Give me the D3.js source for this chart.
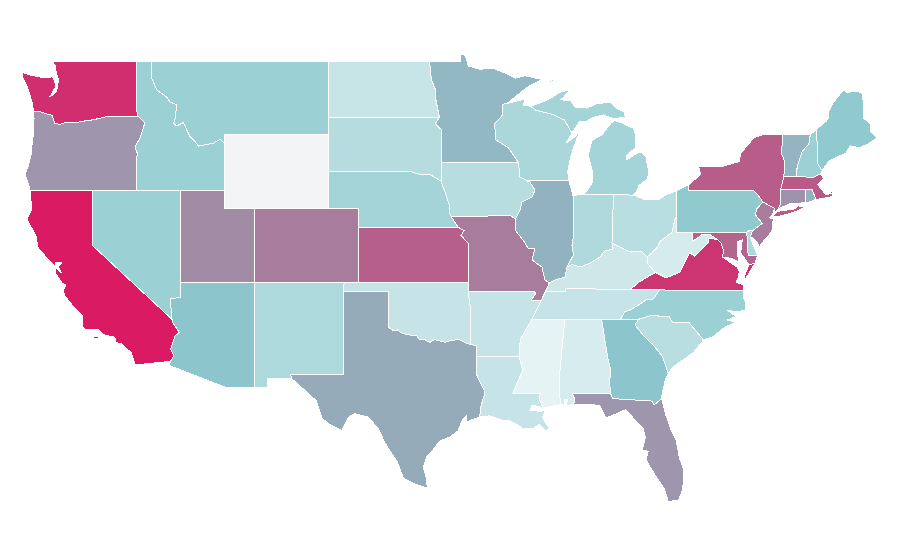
<!DOCTYPE html>
<html>
<head>
<meta charset="utf-8">
<title>US states</title>
<script src="https://cdn.jsdelivr.net/npm/d3@7"></script>
<style>
    html, body { margin: 0; padding: 0; background: #fff; }
    path { shape-rendering: crispEdges; }
</style>
</head>
<body>
<div id="chart"></div>
<script>
// state names and values, same order
var stateNames = ["Washington","Oregon","California","Nevada","Idaho","Montana","Wyoming","Utah","Colorado","Arizona","New Mexico","Texas","Oklahoma","Kansas","Nebraska","South Dakota","North Dakota","Minnesota","Iowa","Missouri","Arkansas","Louisiana","Mississippi","Alabama","Georgia","Florida","South Carolina","North Carolina","Tennessee","Kentucky","Illinois","Indiana","Ohio","Michigan","Wisconsin","Pennsylvania","New York","Vermont","New Hampshire","Maine","Massachusetts","Rhode Island","Connecticut","New Jersey","Delaware","Maryland","West Virginia","Virginia"];
var stateValues = [93,57.5,100,33,33,33,null,61,66,41,25,50,14.5,76,29,21.5,14,45.5,21,66,14.5,14.5,1,7,41,57,20,33,14.5,11,47.5,24.5,20,29,26,38,77,47,33,38,78,48,58,66,25,74,8,90.5];

// colour stops for the value scale
var colorDomain = [0, 40, 66, 100];
var colorRange = ["#e7f4f5", "#8bc8cd", "#a87c9c", "#da1a62"];
var noDataColor = "#f2f4f6";

// state outlines as [lon, lat] rings, same order as stateNames
var stateOutlines = [
  // Washington
  [[[-122.76,49],[-117.03,49],[-117.04,46.42],[-116.92,46],[-119,46],[-119.3,45.93],[-120,45.81],[-120.6,45.74],[-121.2,45.65],[-121.86,45.65],[-122.2,45.57],[-122.55,45.62],[-122.74,46.07],[-122.9,46.08],[-123.2,46.15],[-123.5,46.25],[-124,46.27],[-124.05,46.7],[-124.17,47],[-124.4,47.6],[-124.7,48.1],[-124.73,48.38],[-124.1,48.22],[-123.5,48.13],[-122.95,48.1],[-122.75,48.15],[-122.55,47.95],[-122.5,47.6],[-122.75,47.25],[-122.85,47.1],[-122.6,47.2],[-122.42,47.35],[-122.36,47.7],[-122.28,48],[-122.45,48.3],[-122.5,48.75]]],
  // Oregon
  [[[-124,46.27],[-123.5,46.25],[-123.2,46.15],[-122.9,46.08],[-122.74,46.07],[-122.55,45.62],[-122.2,45.57],[-121.86,45.65],[-121.2,45.65],[-120.6,45.74],[-120,45.81],[-119.3,45.93],[-119,46],[-116.92,46],[-116.6,45.75],[-116.46,45.65],[-116.79,44.83],[-117.13,44.34],[-116.93,43.9],[-117.03,43.8],[-117.03,42],[-124.21,42],[-124.4,42.5],[-124.55,42.84],[-124.35,43.3],[-124.15,43.9],[-124.07,44.6],[-123.97,45.2],[-123.95,45.9]]],
  // California
  [[[-124.21,42],[-120,42],[-120,39],[-114.63,35],[-114.57,34.8],[-114.14,34.3],[-114.43,34.08],[-114.72,33.4],[-114.52,33.03],[-114.72,32.72],[-117.12,32.53],[-117.25,32.85],[-117.4,33.2],[-118,33.65],[-118.4,33.75],[-118.5,34.03],[-119.2,34.15],[-119.6,34.42],[-120.47,34.45],[-120.65,34.6],[-120.65,35.15],[-121.3,35.7],[-121.9,36.3],[-121.95,36.6],[-121.8,36.85],[-122.05,36.95],[-122.5,37.5],[-122.45,37.8],[-122.1,37.5],[-122.3,37.85],[-122.05,38.05],[-122.5,38.1],[-122.5,37.85],[-122.95,38.2],[-123.7,38.9],[-123.8,39.5],[-124.35,40.3],[-124.4,40.45],[-124.1,41],[-124.2,41.8]],
   [[-119.9,34.05],[-119.55,34.05],[-119.6,33.97],[-119.9,33.97]],[[-118.6,33.47],[-118.35,33.38],[-118.35,33.32],[-118.6,33.4]]],
  // Nevada
  [[[-120,42],[-114.04,42],[-114.04,36.2],[-114.75,36.1],[-114.63,35],[-120,39]]],
  // Idaho
  [[[-117.03,49],[-116,49],[-116,48.08],[-115.66,47.43],[-114.99,47.05],[-114.76,46.78],[-114.31,46.62],[-114.43,45.8],[-114.54,45.64],[-114.31,45.48],[-113.86,45.66],[-113.63,45.26],[-113.41,44.9],[-113.07,44.63],[-112.85,44.39],[-111.84,44.54],[-111.39,44.76],[-111.05,44.5],[-111.05,42],[-117.03,42],[-117.03,43.8],[-116.93,43.9],[-117.13,44.34],[-116.79,44.83],[-116.46,45.65],[-116.6,45.75],[-116.92,46],[-117.04,46.42]]],
  // Montana
  [[[-116,49],[-104.05,49],[-104.05,45],[-111.05,45],[-111.05,44.5],[-111.39,44.76],[-111.84,44.54],[-112.85,44.39],[-113.07,44.63],[-113.41,44.9],[-113.63,45.26],[-113.86,45.66],[-114.31,45.48],[-114.54,45.64],[-114.43,45.8],[-114.31,46.62],[-114.76,46.78],[-114.99,47.05],[-115.66,47.43],[-116,48.08]]],
  // Wyoming
  [[[-111.05,45],[-104.05,45],[-104.05,41],[-111.05,41]]],
  // Utah
  [[[-114.04,42],[-111.05,42],[-111.05,41],[-109.05,41],[-109.05,37],[-114.04,37]]],
  // Colorado
  [[[-109.05,41],[-102.05,41],[-102.05,37],[-109.05,37]]],
  // Arizona
  [[[-114.04,37],[-109.05,37],[-109.05,31.33],[-111.07,31.33],[-114.81,32.5],[-114.72,32.72],[-114.52,33.03],[-114.72,33.4],[-114.43,34.08],[-114.14,34.3],[-114.57,34.8],[-114.63,35],[-114.75,36.1],[-114.04,36.2]]],
  // New Mexico
  [[[-109.05,37],[-103,37],[-103.04,32],[-106.62,32],[-106.53,31.78],[-108.2,31.78],[-108.2,31.33],[-109.05,31.33]]],
  // Texas
  [[[-103.04,36.5],[-100,36.5],[-100,34.56],[-99.7,34.4],[-99.4,34.42],[-99.2,34.3],[-98.9,34.2],[-98.6,34.15],[-98.1,34.13],[-97.9,33.9],[-97.55,33.9],[-97.2,33.75],[-96.9,33.9],[-96.6,33.85],[-96.2,33.75],[-95.8,33.85],[-95.5,33.88],[-95.2,33.9],[-94.8,33.73],[-94.48,33.64],[-94.04,33.55],[-94.04,33],[-94.04,31.99],[-93.8,31.55],[-93.55,31.2],[-93.53,30.9],[-93.75,30.3],[-93.84,29.7],[-94.7,29.45],[-94.75,29.75],[-95,29.55],[-95.3,28.95],[-95.9,28.6],[-96.55,28.4],[-97.1,27.8],[-97.4,27.6],[-97.65,27],[-97.45,26.4],[-97.38,25.88],[-97.6,25.9],[-98.2,26.06],[-99,26.4],[-99.4,27.26],[-100.24,28.3],[-100.7,29.1],[-101.4,29.7],[-102.3,29.88],[-102.7,29.7],[-103.15,28.98],[-104,29.3],[-104.5,29.65],[-104.9,30.6],[-106,31.4],[-106.53,31.78],[-106.62,32],[-103.04,32]]],
  // Oklahoma
  [[[-103,37],[-94.62,37],[-94.62,36.5],[-94.43,35.4],[-94.48,33.64],[-94.8,33.73],[-95.2,33.9],[-95.5,33.88],[-95.8,33.85],[-96.2,33.75],[-96.6,33.85],[-96.9,33.9],[-97.2,33.75],[-97.55,33.9],[-97.9,33.9],[-98.1,34.13],[-98.6,34.15],[-98.9,34.2],[-99.2,34.3],[-99.4,34.42],[-99.7,34.4],[-100,34.56],[-100,36.5],[-103.04,36.5]]],
  // Kansas
  [[[-102.05,40],[-95.31,40],[-94.9,39.8],[-95.1,39.55],[-94.6,39.1],[-94.62,37],[-102.05,37]]],
  // Nebraska
  [[[-104.05,43],[-98.5,43],[-97.85,42.85],[-97.2,42.85],[-96.45,42.49],[-96.1,41.7],[-95.9,41.2],[-95.85,40.7],[-95.31,40],[-102.05,40],[-102.05,41],[-104.05,41]]],
  // South Dakota
  [[[-104.05,45.94],[-96.56,45.94],[-96.85,45.6],[-96.45,45.3],[-96.45,43.5],[-96.45,42.49],[-97.2,42.85],[-97.85,42.85],[-98.5,43],[-104.05,43]]],
  // North Dakota
  [[[-104.05,49],[-97.23,49],[-97.1,48],[-96.85,47.5],[-96.8,46.9],[-96.56,45.94],[-104.05,45.94]]],
  // Minnesota
  [[[-97.23,49],[-95.15,49],[-95.15,49.38],[-94.8,49.3],[-94.6,48.72],[-93.8,48.55],[-92.95,48.62],[-92,48.3],[-91.4,48.07],[-90.8,48.2],[-89.6,48],[-90.5,47.65],[-92,46.7],[-92.3,46.65],[-92.29,46.07],[-92.85,45.6],[-92.75,45],[-92.8,44.75],[-91.9,44.3],[-91.22,43.5],[-96.45,43.5],[-96.45,45.3],[-96.85,45.6],[-96.56,45.94],[-96.8,46.9],[-96.85,47.5],[-97.1,48]]],
  // Iowa
  [[[-96.45,43.5],[-91.22,43.5],[-91.12,42.71],[-90.44,42.44],[-90.1,42],[-90.3,41.63],[-90.98,41.36],[-91.12,40.92],[-91.42,40.42],[-91.73,40.61],[-95.77,40.58],[-95.85,40.7],[-95.9,41.2],[-96.1,41.7],[-96.45,42.49]]],
  // Missouri
  [[[-95.77,40.58],[-91.73,40.61],[-91.42,40.42],[-91.45,39.84],[-90.91,39.3],[-90.57,38.86],[-90.1,38.86],[-90.3,38.21],[-89.63,37.83],[-89.43,37.13],[-89.13,36.98],[-89.4,36.5],[-89.7,36],[-90.37,36],[-90.06,36.4],[-90.15,36.5],[-94.62,36.5],[-94.62,37],[-94.6,39.1],[-95.1,39.55],[-94.9,39.8],[-95.31,40]]],
  // Arkansas
  [[[-94.62,36.5],[-90.15,36.5],[-90.06,36.4],[-90.37,36],[-89.7,36],[-90.3,35],[-90.6,34.6],[-91.1,33.9],[-91.17,33],[-94.04,33],[-94.04,33.55],[-94.48,33.64],[-94.43,35.4]]],
  // Louisiana
  [[[-94.04,33],[-91.17,33],[-91,32.4],[-90.9,32.3],[-91.6,31],[-89.73,31],[-89.83,30.67],[-89.55,30.2],[-90.3,30.35],[-90.45,30.05],[-89.75,30.02],[-89.4,30.05],[-89.6,29.7],[-89.4,29.4],[-89.1,29.1],[-89.4,28.95],[-89.8,29.3],[-90.2,29.1],[-90.9,29.05],[-91.3,29.3],[-91.8,29.5],[-92.3,29.53],[-93.2,29.77],[-93.84,29.7],[-93.75,30.3],[-93.53,30.9],[-93.55,31.2],[-93.8,31.55],[-94.04,31.99]]],
  // Mississippi
  [[[-90.3,35],[-88.2,35],[-88.1,34.9],[-88.45,31.9],[-88.4,30.37],[-89.55,30.2],[-89.83,30.67],[-89.73,31],[-91.6,31],[-90.9,32.3],[-91,32.4],[-91.17,33],[-91.1,33.9],[-90.6,34.6]]],
  // Alabama
  [[[-88.2,35],[-85.6,35],[-85.18,32.87],[-85,32.3],[-85.05,31.55],[-85,31],[-87.6,31],[-87.4,30.65],[-87.5,30.4],[-88,30.3],[-87.9,30.65],[-88.1,30.65],[-88.1,30.35],[-88.4,30.37],[-88.45,31.9],[-88.1,34.9]]],
  // Georgia
  [[[-85.6,35],[-83.1,35],[-83.35,34.7],[-82.75,34.1],[-82,33.5],[-81.5,33],[-81.1,32.05],[-81.3,31.7],[-81.55,30.8],[-81.55,30.7],[-82.05,30.36],[-82.2,30.57],[-84.86,30.7],[-85,31],[-85.05,31.55],[-85,32.3],[-85.18,32.87]]],
  // Florida
  [[[-87.6,31],[-85,31],[-84.86,30.7],[-82.2,30.57],[-82.05,30.36],[-81.55,30.7],[-81.3,29.9],[-80.9,29],[-80.55,28.4],[-80.35,27.5],[-80.03,26.8],[-80.12,25.8],[-80.4,25.2],[-81.1,25.12],[-81.35,25.8],[-81.85,26.4],[-82.25,26.9],[-82.6,27.4],[-82.45,27.85],[-82.85,27.9],[-82.65,28.6],[-82.8,29.1],[-83.4,29.6],[-84,30.1],[-84.4,29.95],[-85.3,29.65],[-85.7,30.3],[-86.3,30.4],[-87.5,30.4],[-87.4,30.65]]],
  // South Carolina
  [[[-83.35,34.7],[-83.1,35],[-82.3,35.2],[-81.05,35.15],[-80.8,34.82],[-79.67,34.8],[-78.72,33.88],[-79.43,33.17],[-80.1,32.8],[-80.8,32.4],[-81.1,32.05],[-81.5,33],[-82,33.5],[-82.75,34.1]]],
  // North Carolina
  [[[-81.68,36.59],[-76,36.55],[-76.05,36.2],[-75.85,35.88],[-75.9,35.5],[-76.45,35.4],[-77.13,35.5],[-76.5,35.15],[-77.13,34.96],[-76.5,34.85],[-77.26,34.58],[-78.1,34.04],[-78.72,33.88],[-79.67,34.8],[-80.8,34.82],[-81.05,35.15],[-82.3,35.2],[-83.1,35],[-84.32,35],[-84.05,35.4],[-83.5,35.57],[-82.6,36.05],[-82.1,36.1]]],
  // Tennessee
  [[[-90.3,35],[-88.2,35],[-85.6,35],[-84.32,35],[-84.05,35.4],[-83.5,35.57],[-82.6,36.05],[-82.1,36.1],[-81.68,36.59],[-83.68,36.6],[-88.07,36.68],[-88.07,36.5],[-89.4,36.5],[-89.7,36]]],
  // Kentucky
  [[[-89.4,36.5],[-88.07,36.5],[-88.07,36.68],[-83.68,36.6],[-83.1,37],[-81.97,37.54],[-82.53,38.05],[-82.53,38.38],[-82.87,38.65],[-83.68,38.65],[-84.36,38.92],[-84.9,39.13],[-84.85,38.8],[-85.4,38.7],[-85.7,38.38],[-86.38,38.05],[-87.06,37.83],[-87.6,37.97],[-87.94,37.83],[-88.07,37.29],[-88.75,37.13],[-89.13,36.98]]],
  // Illinois
  [[[-90.64,42.5],[-87.8,42.5],[-87.55,41.75],[-87.53,41.7],[-87.53,39.35],[-87.6,39],[-87.5,38.5],[-87.94,37.83],[-88.07,37.29],[-88.75,37.13],[-89.13,36.98],[-89.43,37.13],[-89.63,37.83],[-90.3,38.21],[-90.1,38.86],[-90.57,38.86],[-90.91,39.3],[-91.45,39.84],[-91.42,40.42],[-91.12,40.92],[-90.98,41.36],[-90.3,41.63],[-90.1,42],[-90.44,42.44]]],
  // Indiana
  [[[-87.53,41.7],[-87.2,41.75],[-86.82,41.76],[-84.8,41.76],[-84.9,39.13],[-84.85,38.8],[-85.4,38.7],[-85.7,38.38],[-86.38,38.05],[-87.06,37.83],[-87.6,37.97],[-87.94,37.83],[-87.5,38.5],[-87.6,39],[-87.53,39.35]]],
  // Ohio
  [[[-84.8,41.76],[-83.45,41.73],[-82.7,41.5],[-81.7,41.5],[-81.25,41.75],[-80.52,41.98],[-80.52,40.64],[-80.65,40.4],[-80.85,39.7],[-81.7,39.2],[-81.75,39],[-82.2,38.6],[-82.53,38.38],[-82.87,38.65],[-83.68,38.65],[-84.36,38.92],[-84.9,39.13]]],
  // Michigan
  [[[-86.82,41.76],[-84.8,41.76],[-83.45,41.73],[-83.15,42.05],[-83.1,42.25],[-82.5,42.6],[-82.42,43],[-82.6,43.8],[-82.95,44.07],[-83.3,43.95],[-83.9,43.65],[-83.9,43.9],[-83.3,44.3],[-83.3,45],[-83.45,45.35],[-84.2,45.63],[-84.75,45.78],[-85,45.6],[-85.35,45.25],[-85.55,45],[-85.8,44.9],[-86.25,44.7],[-86.5,43.9],[-86.25,43.1],[-86.25,42.4],[-86.6,41.95]],
   [[-90.4,46.55],[-90,46.65],[-89.1,46.95],[-88.45,47.3],[-87.75,47.45],[-88.2,47],[-88.4,46.9],[-87.7,46.85],[-87.4,46.5],[-86.6,46.45],[-85.9,46.7],[-85,46.75],[-84.6,46.45],[-84.1,46.25],[-84,45.97],[-84.75,45.87],[-85.5,46.08],[-86.3,45.9],[-86.7,45.7],[-87.1,45.7],[-87.6,45.1],[-87.8,45.35],[-88.1,45.8],[-88.9,46.1],[-90.1,46.35]],
   [[-89.2,47.87],[-88.5,48.17],[-88.5,48.1],[-89.1,47.82]]],
  // Wisconsin
  [[[-92,46.7],[-91.2,46.85],[-90.75,46.95],[-90.9,46.6],[-90.4,46.55],[-90.1,46.35],[-88.9,46.1],[-88.1,45.8],[-87.8,45.35],[-87.6,45.1],[-88,44.55],[-87.4,44.9],[-87.05,45.25],[-87.5,44.3],[-87.75,43.6],[-87.9,43],[-87.8,42.5],[-90.64,42.5],[-90.44,42.44],[-91.12,42.71],[-91.22,43.5],[-91.9,44.3],[-92.8,44.75],[-92.75,45],[-92.85,45.6],[-92.29,46.07],[-92.3,46.65]]],
  // Pennsylvania
  [[[-80.52,41.98],[-79.76,42.27],[-79.76,42],[-75.35,42],[-75.05,41.75],[-74.7,41.36],[-75.13,40.97],[-75.2,40.65],[-74.75,40.2],[-75.4,39.8],[-75.6,39.83],[-75.79,39.72],[-80.52,39.72]]],
  // New York
  [[[-79.76,42],[-79.76,42.27],[-78.9,42.85],[-79.05,43.27],[-77.5,43.27],[-76.3,43.55],[-76.2,44],[-75.3,44.85],[-74.7,45],[-73.35,45],[-73.45,44],[-73.25,43.6],[-73.28,42.75],[-73.5,42.05],[-73.5,41.3],[-73.65,41],[-74,40.7],[-73.9,41],[-74.7,41.36],[-75.05,41.75],[-75.35,42]],
   [[-74.05,40.6],[-73.75,40.85],[-72.6,40.97],[-72.3,41.15],[-71.87,41.07],[-72.6,40.8],[-73.6,40.58]]],
  // Vermont
  [[[-73.35,45],[-71.5,45],[-71.6,44.5],[-72.05,44.1],[-72.3,43.5],[-72.45,43],[-72.46,42.73],[-73.28,42.75],[-73.25,43.6],[-73.45,44]]],
  // New Hampshire
  [[[-71.5,45],[-71.08,45.3],[-70.98,43.4],[-70.7,43.07],[-70.82,42.87],[-71.3,42.7],[-72.46,42.73],[-72.45,43],[-72.3,43.5],[-72.05,44.1],[-71.6,44.5]]],
  // Maine
  [[[-71.08,45.3],[-70.4,45.75],[-70.25,45.95],[-70.3,46.2],[-70,46.7],[-69.23,47.46],[-69.05,47.3],[-68.3,47.36],[-67.95,47.2],[-67.9,45.9],[-67.45,45.6],[-67.45,45.2],[-66.98,44.85],[-67.6,44.5],[-68.2,44.3],[-68.8,44.4],[-69.1,44],[-69.8,43.75],[-70.2,43.6],[-70.7,43.07],[-70.98,43.4]]],
  // Massachusetts
  [[[-73.5,42.05],[-73.28,42.75],[-72.46,42.73],[-71.3,42.7],[-70.82,42.87],[-70.6,42.65],[-71,42.3],[-70.65,41.95],[-70.5,41.78],[-70.05,41.8],[-70.25,42.05],[-69.97,41.9],[-70,41.65],[-70.65,41.55],[-71.12,41.5],[-71.2,41.67],[-71.38,42.02],[-71.8,42.02]],
   [[-70.8,41.38],[-70.5,41.4],[-70.5,41.33],[-70.8,41.33]],[[-70.2,41.3],[-69.97,41.3],[-69.97,41.24],[-70.2,41.24]]],
  // Rhode Island
  [[[-71.8,42.02],[-71.38,42.02],[-71.2,41.67],[-71.12,41.5],[-71.5,41.37],[-71.85,41.32]]],
  // Connecticut
  [[[-73.5,42.05],[-71.8,42.02],[-71.85,41.32],[-72.9,41.25],[-73.65,41],[-73.5,41.3]]],
  // New Jersey
  [[[-74.7,41.36],[-73.9,41],[-74.05,40.7],[-74.25,40.5],[-74,40.45],[-74.1,39.75],[-74.6,39.3],[-74.95,38.93],[-75.1,39.2],[-75.55,39.5],[-75.4,39.8],[-74.75,40.2],[-75.2,40.65],[-75.13,40.97]]],
  // Delaware
  [[[-75.79,39.72],[-75.6,39.83],[-75.4,39.8],[-75.55,39.5],[-75.4,39.1],[-75.05,38.45],[-75.7,38.46]]],
  // Maryland
  [[[-79.48,39.72],[-75.79,39.72],[-75.7,38.46],[-75.05,38.45],[-75.25,38.03],[-75.65,37.95],[-75.85,38.2],[-76.2,38.6],[-76.1,39.3],[-76.45,39.2],[-76.45,38.9],[-76.35,38.1],[-76.8,38.3],[-77.45,38.38],[-77.35,38.65],[-77.5,39.1],[-77.75,39.32],[-78.3,39.6],[-78.8,39.6],[-79.48,39.2]]],
  // West Virginia
  [[[-80.52,40.64],[-80.52,39.72],[-79.48,39.72],[-79.48,39.2],[-78.8,39.6],[-78.3,39.6],[-77.75,39.32],[-78.35,39.4],[-78.4,39.15],[-78.9,38.75],[-79.3,38.42],[-79.65,38.6],[-80.3,37.55],[-81.25,37.25],[-81.97,37.54],[-82.53,38.05],[-82.53,38.38],[-82.2,38.6],[-81.75,39],[-81.7,39.2],[-80.85,39.7],[-80.65,40.4]]],
  // Virginia
  [[[-83.68,36.6],[-81.68,36.59],[-76,36.55],[-76.05,36.88],[-76.5,37],[-76.35,37.3],[-76.3,37.6],[-76.45,37.83],[-77.45,38.38],[-77.35,38.65],[-77.5,39.1],[-77.75,39.32],[-78.35,39.4],[-78.4,39.15],[-78.9,38.75],[-79.3,38.42],[-79.65,38.6],[-80.3,37.55],[-81.25,37.25],[-81.97,37.54],[-83.1,37]],
   [[-75.65,37.95],[-75.25,38.03],[-75.9,37.15],[-75.97,37.3]]]
];

function init() {

    var w = 900;
    var h = 560;

    // lon/lat map straight onto the page, the parallels are evenly spaced
    var xScale = d3.scaleLinear().domain([-120, -110]).range([92.5, 240.5]);
    var yScale = d3.scaleLinear().domain([49, 39]).range([61, 245.5]);

    var colorScale = d3.scaleLinear().domain(colorDomain).range(colorRange);

    var stretch = d3.geoTransform({
        point: function(lon, lat) {
            this.stream.point(xScale(lon), yScale(lat));
        }
    });
    var path = d3.geoPath(stretch);

    var svg = d3.select("#chart")
        .append("svg")
        .attr("width", w)
        .attr("height", h);

    svg.selectAll("path")
        .data(stateNames)
        .enter()
        .append("path")
        .attr("class", "state")
        .attr("d", function(d, i) {
            // rings get closed here, geoPath expects the first point repeated
            var rings = stateOutlines[i].map(function(r) { return [r.concat([r[0]])]; });
            return path({type: "MultiPolygon", coordinates: rings});
        })
        .attr("fill", function(d, i) {
            return stateValues[i] === null ? noDataColor : colorScale(stateValues[i]);
        })
        .attr("stroke", "#fff")
        .attr("stroke-width", 1);
}

window.onload = init;
</script>
</body>
</html>
